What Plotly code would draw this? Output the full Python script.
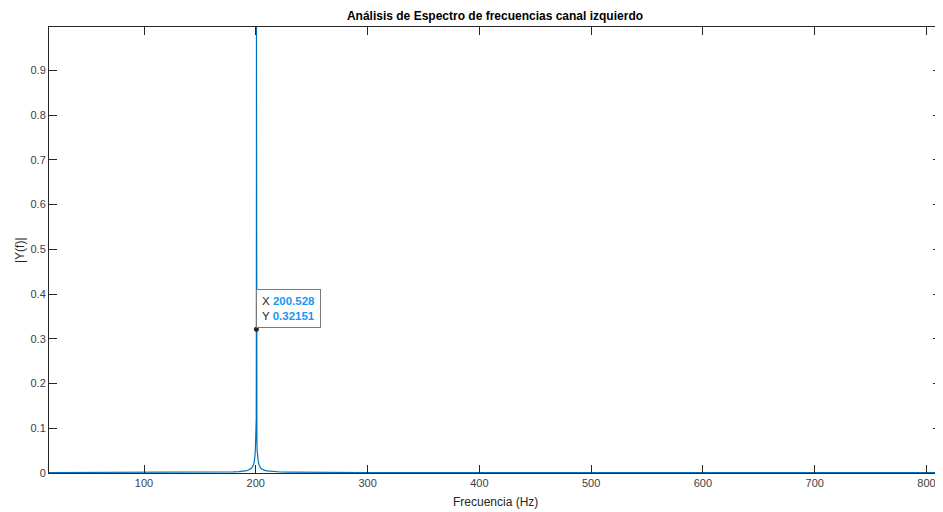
import plotly.graph_objects as go

# Spectrum samples (Hz) and magnitudes
freq_hz = [15, 40, 70, 100, 130, 150, 165, 175, 180, 185, 188, 190, 192, 193.5, 194.5,
           195.5, 196.3, 197, 197.6, 198.1, 198.6, 199.0, 199.4, 199.7, 199.9, 200.1,
           200.3, 200.4, 200.528, 200.6, 200.7, 200.85, 201.0, 201.2, 201.5, 201.9,
           202.4, 203.0, 203.6, 204.4, 205.4, 206.5, 208, 210, 213, 217, 222, 230,
           245, 270, 300, 350, 400, 450, 500, 550, 600, 650, 700, 750, 800, 813]
magnitude = [0.0010, 0.0011, 0.0010, 0.0012, 0.0013, 0.0015, 0.0018, 0.0022, 0.0026,
             0.0032, 0.0038, 0.0045, 0.0055, 0.0068, 0.0080,
             0.0095, 0.0110, 0.0135, 0.0160, 0.0200, 0.0250, 0.0320, 0.0430, 0.0600,
             0.0850, 0.1150,
             0.0900, 0.1200, 0.32151, 0.997, 0.3000, 0.1100, 0.0700, 0.0500, 0.0380,
             0.0300, 0.0230, 0.0180, 0.0140, 0.0110, 0.0090, 0.0072, 0.0058, 0.0046,
             0.0036, 0.0028, 0.0022, 0.0018, 0.0014, 0.0012, 0.0011, 0.0010, 0.0010,
             0.0009, 0.0009, 0.0009, 0.0008, 0.0008, 0.0008, 0.0008, 0.0008, 0.0008]

tip_x = [200.528]
tip_y = [0.32151]

x_ticks = [100, 200, 300, 400, 500, 600, 700, 800]
y_ticks = [0, 0.1, 0.2, 0.3, 0.4, 0.5, 0.6, 0.7, 0.8, 0.9]
y_tick_labels = ["0", "0.1", "0.2", "0.3", "0.4", "0.5", "0.6", "0.7", "0.8", "0.9"]

FONT = "Liberation Sans, Arial, sans-serif"
OFF = 8  # page body margin in the browser
W, H = 943 - OFF, 512 - OFF
L, R, T, B = 49 - OFF, 2, 26.5 - OFF, H - (473.5 - OFF)

fig = go.Figure()
fig.add_trace(go.Scatter(x=freq_hz, y=magnitude, mode="lines",
                         line=dict(color="#0072BD", width=1.2), hoverinfo="skip",
                         showlegend=False))
fig.add_trace(go.Scatter(x=tip_x, y=tip_y, mode="markers",
                         marker=dict(color="#262626", size=5), showlegend=False,
                         hoverinfo="skip"))

blue = "#1a96f0"
fig.add_annotation(
    x=tip_x[0], y=tip_y[0], xref="x", yref="y",
    text=("X <span style='color:%s'><b>%s</b></span><br>"
          "Y <span style='color:%s'><b>%s</b></span>") % (blue, "200.528", blue, "0.32151"),
    showarrow=False, xanchor="left", yanchor="bottom", xshift=0, yshift=1,
    align="left", bgcolor="white", bordercolor="#7a7a7a", borderwidth=1, borderpad=5,
    font=dict(family=FONT, size=11.5, color="#262626"))

# axis titles as annotations for exact placement
plot_h = H - T - B
plot_w = W - L - R
fig.add_annotation(text="Frecuencia (Hz)", xref="paper", yref="paper",
                   x=0.5, y=-(503 - 473.5) / plot_h, xanchor="center",
                   yanchor="middle", showarrow=False,
                   font=dict(family=FONT, size=12, color="#262626"))
fig.add_annotation(text="|Y(f)|", xref="paper", yref="paper", textangle=-90,
                   x=-(49 - 20) / plot_w, y=0.5, xanchor="center", yanchor="middle",
                   showarrow=False, font=dict(family=FONT, size=12, color="#262626"))

axis_common = dict(showline=True, linecolor="#262626", linewidth=1, mirror="allticks",
                   ticks="inside", ticklen=8, tickcolor="#262626", showgrid=False,
                   zeroline=False, automargin=False,
                   tickfont=dict(family=FONT, size=11, color="#404040"))

fig.update_xaxes(range=[15, 813], tickvals=x_ticks, **axis_common)
fig.update_yaxes(range=[0, 0.997], tickvals=y_ticks, ticktext=y_tick_labels,
                 **axis_common)

fig.update_layout(
    width=W, height=H,
    margin=dict(l=L, r=R, t=T, b=B),
    paper_bgcolor="white", plot_bgcolor="white",
    title=dict(text="<b>Análisis de Espectro de frecuencias canal izquierdo</b>",
               x=(L + W - R) / 2 / W, xanchor="center", y=1 - (16 - OFF) / H,
               yanchor="middle",
               font=dict(family=FONT, size=12, color="#000000")),
)

fig.write_html("out.html")
